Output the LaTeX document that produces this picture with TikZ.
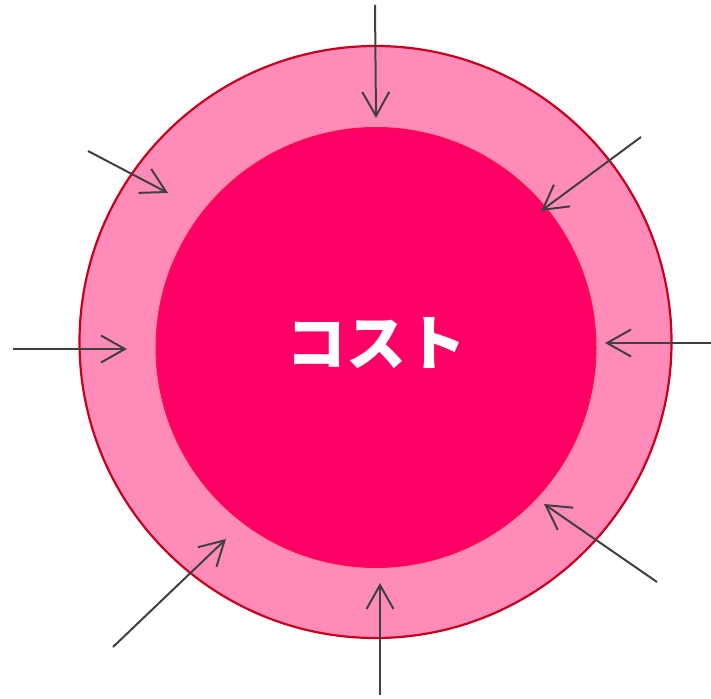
\documentclass[tikz,border=0pt]{standalone}
\usepackage{fontspec}
\newfontfamily\cjk{Noto Sans CJK JP}
\usetikzlibrary{arrows.meta}
\definecolor{ringfill}{HTML}{FF8CB8}
\definecolor{ringline}{HTML}{C8001E}
\definecolor{corefill}{HTML}{FF0066}
\definecolor{coreline}{HTML}{FF1040}
\definecolor{arrowgray}{HTML}{404040}
\tikzset{
  inarrow/.style={draw=arrowgray, line width=2pt, -{Straight Barb[length=24pt,width=27pt,line width=2pt]}},
}
\begin{document}
\begin{tikzpicture}[x=1pt,y=-1pt]
\useasboundingbox (0,0) rectangle (711,698);
\node[circle, minimum size=592pt, inner sep=0pt, fill=ringfill, draw=ringline, line width=2.2pt] (outer) at (375.5,342) {};
\node[circle, minimum size=440pt, inner sep=0pt, fill=corefill, draw=coreline, line width=1pt] (core) at (376,347.5) {};
\node[text=white, font=\cjk\bfseries\fontsize{60}{66}\selectfont] (label) at (376,343) {コスト};
% arrow start points and tips
\coordinate (s1) at (375,5);   \coordinate (t1) at (376,118);
\coordinate (s2) at (641,137); \coordinate (t2) at (541,211);
\coordinate (s3) at (711,343); \coordinate (t3) at (605,343);
\coordinate (s4) at (657,582); \coordinate (t4) at (544,504);
\coordinate (s5) at (380,695); \coordinate (t5) at (380,583);
\coordinate (s6) at (113,647); \coordinate (t6) at (226,539);
\coordinate (s7) at (13,349);  \coordinate (t7) at (127,349);
\coordinate (s8) at (88,151);  \coordinate (t8) at (168,193);
\foreach \i in {1,...,8} { \draw[inarrow] (s\i) -- (t\i); }
\end{tikzpicture}
\end{document}
